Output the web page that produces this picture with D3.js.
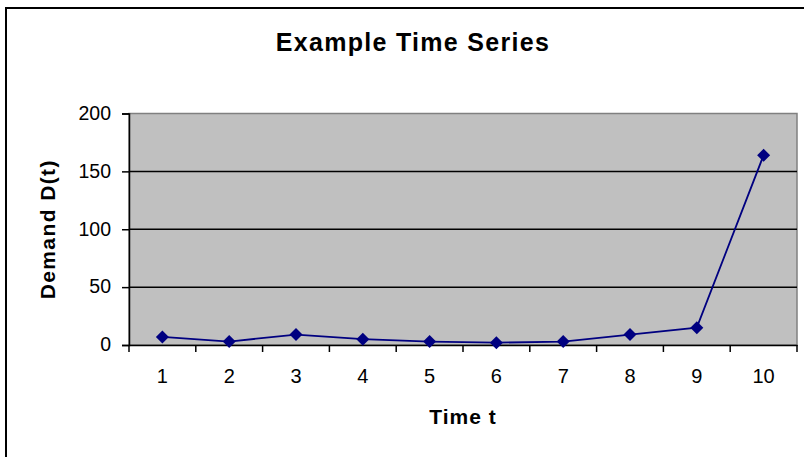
<!DOCTYPE html>
<html><head><meta charset="utf-8">
<script src="https://cdn.jsdelivr.net/npm/d3@7"></script>
<style>body{margin:0;background:#fff}svg{display:block;font-family:"Liberation Sans",Arial,sans-serif}</style>
</head><body><svg id="c" width="804" height="457"></svg>
<script>
const categories = ["1","2","3","4","5","6","7","8","9","10"];
const demand = [7, 3, 9, 5, 3, 2, 3, 9, 15, 164];
const yTicks = [0, 50, 100, 150, 200];
const titleText = "Example Time Series";
const xTitle = "Time t";
const yTitle = "Demand D(t)";

const svg = d3.select("#c");
const L = 129, R = 797, T = 113.5, B = 345;
const x = d3.scaleBand().domain(categories).range([L, R]);
const y = d3.scaleLinear().domain([0, 200]).range([B, T]);
const FONT = "Liberation Sans, Arial, sans-serif";

// outer chart border
svg.append("rect").attr("x", 6).attr("y", 8).attr("width", 820).attr("height", 470)
  .attr("fill", "#fff").attr("stroke", "#000").attr("stroke-width", 2);

// plot background
svg.append("rect").attr("x", L).attr("y", T).attr("width", R - L).attr("height", B - T)
  .attr("fill", "#c0c0c0").attr("stroke", "#808080").attr("stroke-width", 1.5);

// gridlines
svg.append("g").selectAll("line").data(yTicks.filter(d => d > 0 && d < 200)).join("line")
  .attr("x1", L).attr("x2", R).attr("y1", d => y(d)).attr("y2", d => y(d))
  .attr("stroke", "#000").attr("stroke-width", 1.5);

// y axis
const yAxis = svg.append("g").attr("transform", `translate(${L},0)`)
  .call(d3.axisLeft(y).tickValues(yTicks).tickSize(7).tickPadding(11));
yAxis.select(".domain").attr("stroke", "#000").attr("stroke-width", 1.5);
yAxis.selectAll(".tick line").attr("stroke", "#000").attr("stroke-width", 1.5);
yAxis.selectAll("text").attr("font-size", 19.5).attr("fill", "#000")
  .attr("font-family", FONT).attr("dy", "0.3em");

// x axis (ticks at band boundaries)
const xAxis = svg.append("g").attr("transform", `translate(0,${B})`)
  .call(d3.axisBottom(x).tickSize(0).tickPadding(0));
xAxis.select(".domain").attr("stroke", "#000").attr("stroke-width", 1.5);
xAxis.selectAll("text").attr("font-size", 20).attr("fill", "#000")
  .attr("font-family", FONT).attr("y", 38).attr("dy", 0);
const bounds = categories.map(c => x(c)).concat([x(categories[categories.length - 1]) + x.bandwidth()]);
svg.append("g").selectAll("line").data(bounds).join("line")
  .attr("x1", d => d).attr("x2", d => d).attr("y1", B).attr("y2", B + 7)
  .attr("stroke", "#000").attr("stroke-width", 1.5);

// line
const cx = (d, i) => x(categories[i]) + x.bandwidth() / 2;
svg.append("path").datum(demand)
  .attr("d", d3.line().x(cx).y(d => y(d)))
  .attr("fill", "none").attr("stroke", "#000080").attr("stroke-width", 1.8);

// markers
svg.append("g").selectAll("path").data(demand).join("path")
  .attr("transform", (d, i) => `translate(${cx(d, i)},${y(d)})`)
  .attr("d", "M0,-6.5L6.5,0L0,6.5L-6.5,0Z")
  .attr("fill", "#000080");

// titles
svg.append("text").attr("x", 413).attr("y", 51).attr("text-anchor", "middle")
  .attr("font-size", 25).attr("font-weight", "bold").attr("letter-spacing", 1.3).text(titleText);
svg.append("text").attr("x", 463).attr("y", 424).attr("text-anchor", "middle")
  .attr("font-size", 21).attr("font-weight", "bold").attr("letter-spacing", 1).text(xTitle);
svg.append("text").attr("transform", `translate(55,${(T + B) / 2}) rotate(-90)`)
  .attr("text-anchor", "middle").attr("font-size", 21).attr("font-weight", "bold")
  .attr("letter-spacing", 1.4).text(yTitle);
</script></body></html>
